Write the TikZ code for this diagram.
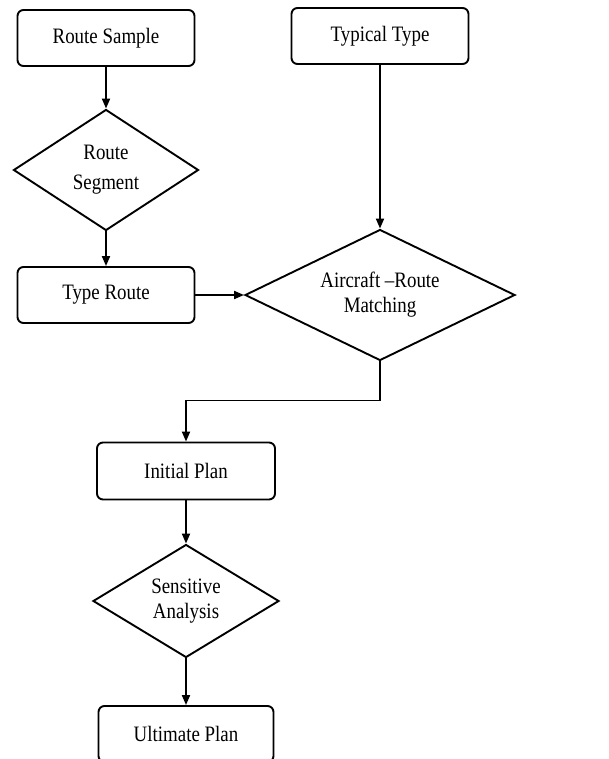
\documentclass[tikz,border=0pt]{standalone}
\usepackage{fontspec}
\setmainfont[FakeStretch=0.86]{Liberation Serif}
\usetikzlibrary{shapes.geometric,arrows.meta}

\begin{document}
\begin{tikzpicture}
[
x=1pt, y=-1pt, line width=1.9pt, >={Triangle[length=10pt,width=8pt]},
font=\fontsize{22}{25}\selectfont,
block/.style    = {draw, rectangle, rounded corners=6pt, minimum height=56pt, minimum width=177pt},
decision/.style = {draw, diamond, aspect=2, inner sep=0pt, align=center},
]
\useasboundingbox (0,0) rectangle (608,759);
\clip (0,0) rectangle (608,759);

\node at (106,38)[block] (sample) {Route Sample};
\node at (380,36)[block] (typical) {Typical Type};
\node at (106,170)[decision, minimum width=185pt, minimum height=121pt] (segment) {Route\\[5pt]Segment};
\node at (106,295)[block] (typeroute) {Type Route};
\node at (380,295)[decision, minimum width=270pt, minimum height=131pt] (match) {Aircraft \textendash Route\\Matching};
\node at (186,471)[block, minimum width=178pt, minimum height=57pt] (initial) {Initial Plan};
\node at (186,601)[decision, minimum width=186pt, minimum height=113pt] (sensitive) {Sensitive\\Analysis};
\node at (186,734)[block, minimum width=175pt] (ultimate) {Ultimate Plan};

\draw[->] (sample.south) to (segment.north);
\draw[->] (segment.south) to (typeroute.north);
\draw[->] (typical.south) to (match.north);
\draw[->] (typeroute.east) to (match.west);
\draw[->] (match.south) -- ++(0,39) -| (initial.north);
\draw[->] (initial.south) to (sensitive.north);
\draw[->] (sensitive.south) to (ultimate.north);
\end{tikzpicture}
\end{document}
